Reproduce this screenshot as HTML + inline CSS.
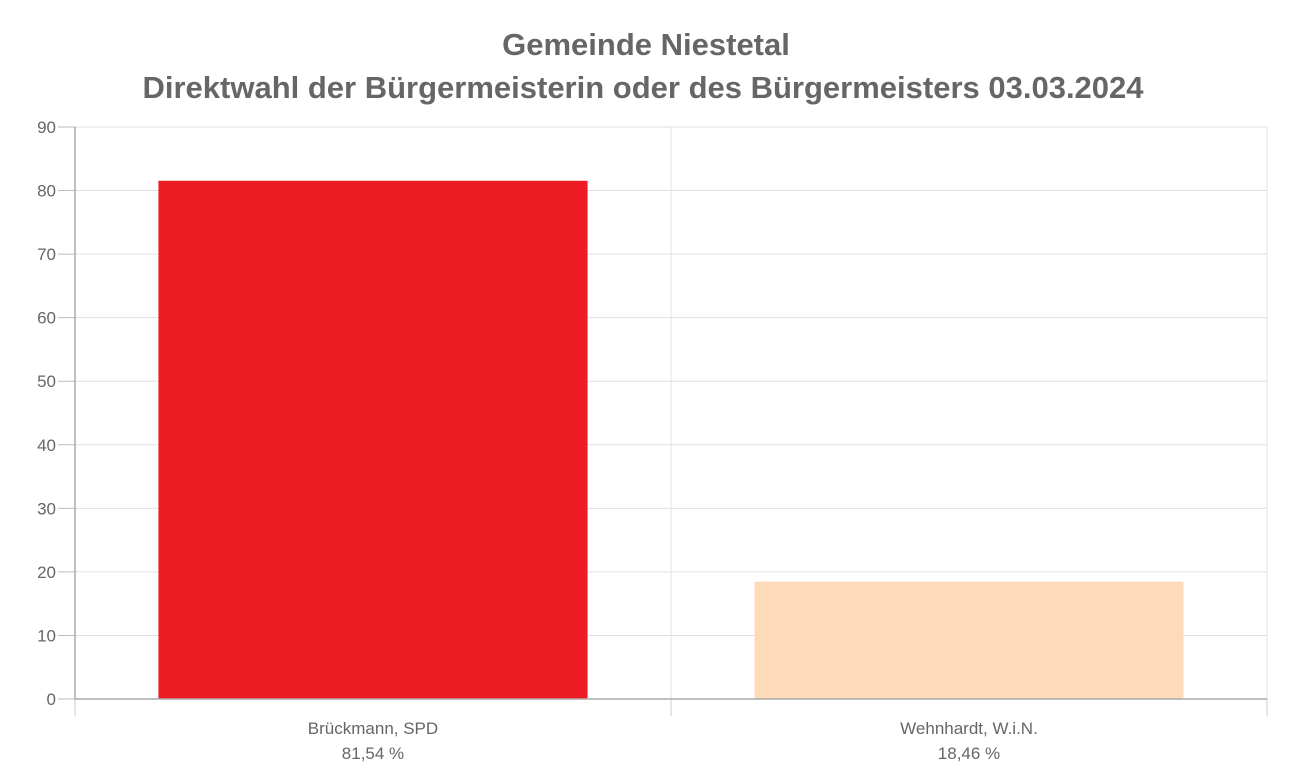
<!DOCTYPE html>
<html><head><meta charset="utf-8"><style>
html,body{margin:0;padding:0;background:#fff;}
svg{display:block;font-family:"Liberation Sans",Arial,sans-serif;}
</style></head><body>
<svg id="chart" width="1293" height="780">
<text x="646" y="55" text-anchor="middle" font-size="31" font-weight="bold" fill="#666">Gemeinde Niestetal</text>
<text x="643" y="98" text-anchor="middle" font-size="31" font-weight="bold" fill="#666">Direktwahl der Bürgermeisterin oder des Bürgermeisters 03.03.2024</text>
<g id="grid"></g><g id="bars"></g><g id="axes"></g>
</svg>
<script>
const categories = ["Brückmann, SPD", "Wehnhardt, W.i.N."];
const values = [81.54, 18.46];
const valueLabels = ["81,54 %", "18,46 %"];
const barColors = ["#ed1c24", "#fddbba"];
const yTicks = [0,10,20,30,40,50,60,70,80,90];

const NS="http://www.w3.org/2000/svg";
const L=75,R=1267,T=127,B=699,yMax=90;
const y=v=>B-(v/yMax)*(B-T);
const bw=(R-L)/categories.length;
const x=i=>L+i*bw;
function mk(tag,attrs,parent){const e=document.createElementNS(NS,tag);for(const k in attrs)e.setAttribute(k,attrs[k]);parent.appendChild(e);return e;}
const grid=document.getElementById('grid'),bars=document.getElementById('bars'),axes=document.getElementById('axes');
yTicks.forEach(t=>{
  if(t>0){const g=mk('line',{x1:L,x2:R,y1:y(t),y2:y(t),stroke:'#e0e0e0','stroke-width':1},grid);
  
  }
  const tk=mk('line',{x1:58,x2:L,y1:y(t),y2:y(t),stroke:'#bbb','stroke-width':1},axes);
  
  
  const lb=mk('text',{x:56,y:y(t)+6,'text-anchor':'end','font-size':17,fill:'#666'},axes);
  lb.textContent=t;
  
  
});
for(let i=0;i<=categories.length;i++){
  const g=mk('line',{x1:x(i),x2:x(i),y1:T,y2:B,stroke:'#e0e0e0','stroke-width':1},grid);
  
  
  const tk=mk('line',{x1:x(i),x2:x(i),y1:B,y2:716,stroke:'#ccc','stroke-width':1},axes);
  
  
}
categories.forEach((c,i)=>{
  const w=bw*0.72,cx=x(i)+bw/2;
  const r=mk('rect',{x:cx-w/2,y:y(values[i]),width:w,height:B-y(values[i]),fill:barColors[i]},bars);
  
  
  const t1=mk('text',{x:cx,y:734,'text-anchor':'middle','font-size':17,fill:'#666'},axes);
  t1.textContent=c;
  
  
  const t2=mk('text',{x:cx,y:759,'text-anchor':'middle','font-size':17,fill:'#666'},axes);
  t2.textContent=valueLabels[i];
  
  
});
const ya=mk('line',{x1:L,x2:L,y1:T,y2:B,stroke:'#aaa','stroke-width':1.5},axes);


const xa=mk('line',{x1:L,x2:R,y1:B,y2:B,stroke:'#aaa','stroke-width':1.5},axes);


</script>
</body></html>
